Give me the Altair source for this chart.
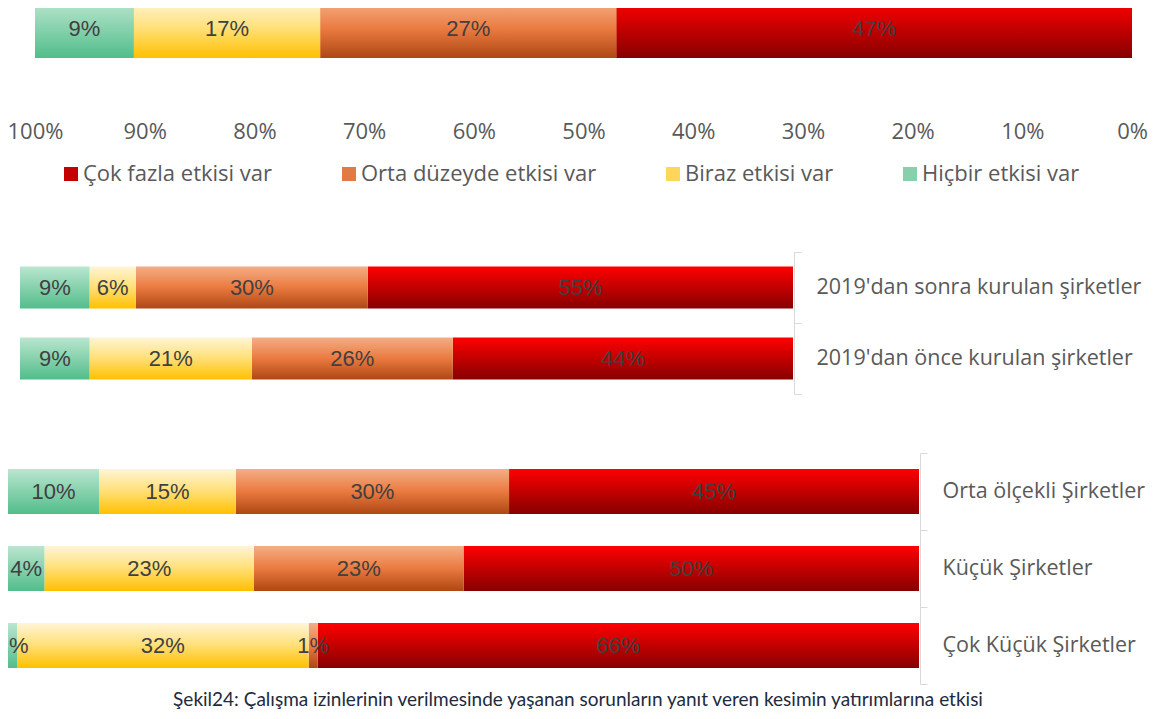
import altair as alt
import pandas as pd

# ---------------- data ----------------
categories = ["Çok fazla etkisi var", "Orta düzeyde etkisi var", "Biraz etkisi var", "Hiçbir etkisi var"]

top_groups = ["Genel"]
top_cok = [47]
top_orta = [27]
top_biraz = [17]
top_hicbir = [9]

mid_groups = ["2019'dan sonra kurulan şirketler", "2019'dan önce kurulan şirketler"]
mid_cok = [55, 44]
mid_orta = [30, 26]
mid_biraz = [6, 21]
mid_hicbir = [9, 9]

bot_groups = ["Orta ölçekli Şirketler", "Küçük Şirketler", "Çok Küçük Şirketler"]
bot_cok = [45, 50, 66]
bot_orta = [30, 23, 1]
bot_biraz = [15, 23, 32]
bot_hicbir = [10, 4, 1]

tick_values = [0, 10, 20, 30, 40, 50, 60, 70, 80, 90, 100]
caption = "Şekil24: Çalışma izinlerinin verilmesinde yaşanan sorunların yanıt veren kesimin yatırımlarına etkisi"

# ---------------- styles ----------------
legend_colors = ["#C40000", "#E27A45", "#FFD65C", "#86D0AC"]
gradient_stops = [
    [(0, "#FF0000"), (1, "#860000")],
    [(0, "#F4AE86"), (0.5, "#EA7A3F"), (1, "#AE4714")],
    [(0, "#FFF5D6"), (0.5, "#FFDF75"), (1, "#FFC000")],
    [(0, "#BAE6D0"), (1, "#52BD8A")],
]
gradients = [
    alt.LinearGradient(
        gradient="linear",
        stops=[alt.GradientStop(offset=o, color=c) for o, c in st],
        x1=0, x2=0, y1=0, y2=1,
    )
    for st in gradient_stops
]

LABEL_FONT = "Open Sans"
GRAY = "#595959"


def long_df(groups, series):
    rows = []
    for gi, g in enumerate(groups):
        for ci, cat in enumerate(categories):
            rows.append({"group": g, "category": cat, "order": ci, "value": series[ci][gi]})
    return pd.DataFrame(rows)


def panel(df, groups, xrange, yrange, band, x_axis, y_axis, legend=False):
    base = alt.Chart(df).transform_stack(
        stack="value", groupby=["group"], as_=["v0", "v1"],
        sort=[alt.SortField("order", order="ascending")],
    )
    xscale = alt.Scale(domain=[0, 100], range=xrange, nice=False, zero=False)
    X = alt.X("v0:Q", scale=xscale, axis=x_axis, title=None)
    X2 = alt.X2("v1:Q")
    Y = alt.Y("group:N", sort=groups, title=None,
              scale=alt.Scale(domain=groups, range=yrange, paddingInner=0, paddingOuter=0),
              axis=y_axis)
    bar_h = {"band": band}
    layers = []
    if legend:
        layers.append(
            base.mark_bar(height=bar_h).encode(
                x=X, x2=X2, y=Y,
                color=alt.Color(
                    "category:N",
                    scale=alt.Scale(domain=categories, range=legend_colors),
                    legend=alt.Legend(
                        title=None, orient="none", direction="horizontal",
                        legendX=52, legendY=155, padding=0,
                        symbolType="square", symbolSize=196, symbolStrokeWidth=0,
                        labelFont=LABEL_FONT, labelFontSize=22, labelColor=GRAY,
                        labelOffset=1, columnPadding=65, labelLimit=400,
                    ),
                ),
            )
        )
    for cat, grad in zip(categories, gradients):
        layers.append(
            base.transform_filter(alt.datum.category == cat)
            .mark_bar(color=grad, height=bar_h)
            .encode(x=X, x2=X2, y=Y)
        )
    layers.append(
        base.transform_calculate(mid="(datum.v0 + datum.v1) / 2", label="datum.value + '%'")
        .mark_text(font="Liberation Sans", fontSize=22, color="#404040")
        .encode(x=alt.X("mid:Q", scale=xscale, axis=x_axis, title=None), y=Y, text="label:N")
    )
    return alt.layer(*layers)


W, H = 1140, 703

top_axis = alt.Axis(
    orient="bottom", offset=-590, values=tick_values, labelExpr="datum.value + '%'",
    domain=False, ticks=False, grid=False, labelPadding=0, labelFont=LABEL_FONT,
    labelFontSize=22, labelColor=GRAY, labelFlush=False, labelOverlap=False, labelBound=False,
)


def right_axis(xpos):
    return alt.Axis(
        orient="right", offset=xpos - W, tickBand="extent", grid=False,
        domainColor="#D9D9D9", tickColor="#D9D9D9", domainWidth=1, tickWidth=1, tickSize=7,
        labelPadding=15, labelFont=LABEL_FONT, labelFontSize=21.5, labelColor=GRAY, labelLimit=500,
    )


top = panel(long_df(top_groups, [top_cok, top_orta, top_biraz, top_hicbir]), top_groups,
            [1124, 27], [-8, 50], 1.0, top_axis, None, legend=True)
mid = panel(long_df(mid_groups, [mid_cok, mid_orta, mid_biraz, mid_hicbir]), mid_groups,
            [785, 12], [244, 386], 0.595, None, right_axis(786))
bot = panel(long_df(bot_groups, [bot_cok, bot_orta, bot_biraz, bot_hicbir]), bot_groups,
            [911, 0], [445, 676], 0.584, None, right_axis(912))

chart = (
    alt.layer(top, mid, bot)
    .resolve_scale(x="independent", y="independent")
    .properties(
        width=W, height=H, autosize=alt.AutoSizeParams(type="none"), padding=0,
        title=alt.TitleParams(
            text=caption, orient="bottom", anchor="middle", frame="group", offset=-20,
            font="Lato", fontSize=19, fontWeight="normal", color="#1E2A3E",
        ),
    )
    .configure_view(stroke=None)
)

chart.save("out.html", embed_options={"renderer": "svg", "actions": False})
